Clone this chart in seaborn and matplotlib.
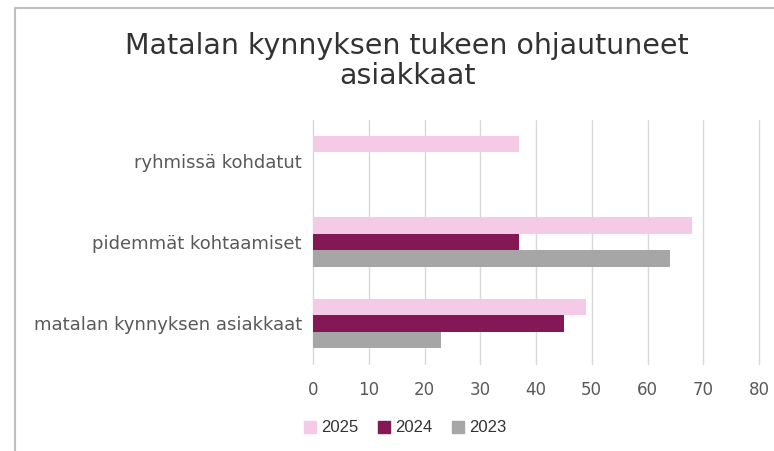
import pandas as pd
import matplotlib.pyplot as plt
from matplotlib.lines import Line2D
import seaborn as sns
import numpy as np

# Data
kategoriat = ['ryhmissä kohdatut', 'pidemmät kohtaamiset', 'matalan kynnyksen asiakkaat']
vuodet = ['2025', '2024', '2023']
arvot_2025 = [37, 68, 49]
arvot_2024 = [np.nan, 37, 45]
arvot_2023 = [np.nan, 64, 23]
varit = ['#F5CAE6', '#841857', '#A6A6A6']

df = pd.DataFrame({
    'kategoria': kategoriat * 3,
    'vuosi': ['2025'] * 3 + ['2024'] * 3 + ['2023'] * 3,
    'arvo': arvot_2025 + arvot_2024 + arvot_2023,
})

sns.set_style('white')
plt.rcParams['font.family'] = ['DejaVu Sans']

fig = plt.figure(figsize=(7.74, 4.51), dpi=100)
ax = fig.add_axes([313 / 774, 1 - 364 / 451, (759 - 313) / 774, (364 - 120) / 451])

sns.barplot(data=df, y='kategoria', x='arvo', hue='vuosi', order=kategoriat,
            hue_order=vuodet, palette=varit, orient='h', width=0.61, gap=0,
            saturation=1, errorbar=None, ax=ax, legend=False, linewidth=0)

ax.set_xlim(0, 80)
ax.set_xticks(range(0, 81, 10))
ax.xaxis.grid(True, color='#D9D9D9', linewidth=1)
for g in ax.get_xgridlines():
    g.set_clip_on(False)
ax.set_axisbelow(True)
for s in ax.spines.values():
    s.set_visible(False)
ax.set_xlabel('')
ax.set_ylabel('')
ax.tick_params(axis='x', length=0, pad=12, labelsize=12, labelcolor='#595959')
ax.tick_params(axis='y', length=0, pad=8, labelsize=13, labelcolor='#595959')

fig.text(0.526, 1 - 61 / 451, 'Matalan kynnyksen tukeen ohjautuneet\nasiakkaat',
         ha='center', va='center', fontsize=20.5, color='#333333', linespacing=1.1)

kahvat = [plt.Rectangle((0, 0), 1, 1, color=c) for c in varit]
fig.legend(kahvat, vuodet, loc='center', bbox_to_anchor=(405 / 774, 1 - 428 / 451),
           ncol=3, frameon=False, handlelength=0.7, handleheight=0.7,
           handletextpad=0.3, columnspacing=1.2,
           prop={'family': 'Liberation Sans', 'size': 12}, labelcolor='#333333')

# frame of the screenshot
fig.add_artist(Line2D([15 / 774, 1], [1 - 8 / 451, 1 - 8 / 451], color='#BFBFBF', lw=1.5))
fig.add_artist(Line2D([15 / 774, 15 / 774], [0, 1 - 8 / 451], color='#BFBFBF', lw=1.5))

fig.savefig('out.png', dpi=100)
